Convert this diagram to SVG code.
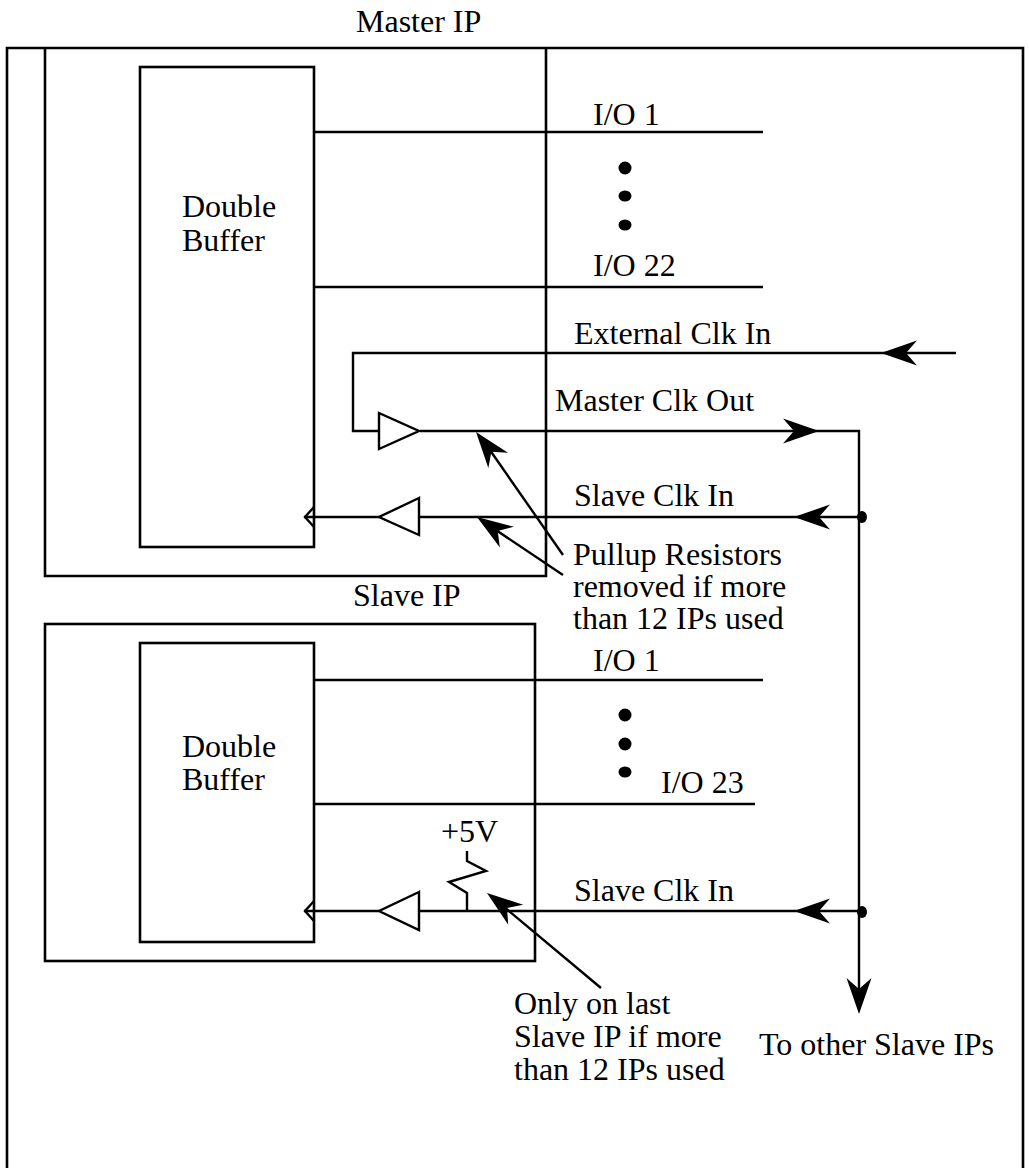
<svg xmlns="http://www.w3.org/2000/svg" width="1029" height="1168" viewBox="0 0 1029 1168">
<style>
.l{fill:none;stroke:#000;stroke-width:2.4}
.t{fill:none;stroke:#000;stroke-width:2.4;stroke-linejoin:miter}
.b{fill:none;stroke:#000;stroke-width:2.6}
text{font-family:"Liberation Serif","Times New Roman",serif;font-size:32px;fill:#000}
.h{fill:#000;stroke:none}
.d{fill:#000}
</style>
<defs>
<path id="ah" class="h" d="M0 0L-36 -12.500L-25 0L-36 12.500Z"/>
</defs>
<rect width="1029" height="1168" fill="#fff"/>
<g id="frame"><path class="b" d="M7 1168V48H1023V1168"/></g>
<g id="master-ip"><path class="b" d="M45 48V576H546V48"/><text x="356" y="32">Master IP</text></g>
<g id="master-buffer"><rect class="b" x="140" y="67" width="174" height="480"/><text x="182" y="217">Double</text><text x="182" y="251">Buffer</text></g>
<g id="slave-ip"><rect class="b" x="45" y="624" width="490" height="337"/><text x="353" y="606">Slave IP</text></g>
<g id="slave-buffer"><rect class="b" x="140" y="643" width="174" height="299"/><text x="182" y="757">Double</text><text x="182" y="790">Buffer</text></g>
<g id="connectors">
<path class="l" d="M314 132H763M314 287H763M314 680H763M314 804H755"/>
<path class="l" d="M956 353H353V431H379"/>
<path class="l" d="M420 431H859V1000"/>
<path class="l" d="M859 517H419M379 517H304"/>
<path class="l" d="M859 911H419M379 911H304"/>
<path class="t" d="M379 413L419 431L379 449Z"/>
<path class="t" d="M419 498L379 517L419 535Z"/>
<path class="t" d="M419 892L379 911L419 930Z"/>
<path class="l" d="M314 507L305 517L314 527M314 901L305 911L314 921"/>
<path class="l" d="M467 851V861L486 871L449 882L467 893V911"/>
<path class="l" d="M563 555L485 443M563 575L487 524M601 988L497 901"/>
<use href="#ah" transform="translate(881 353) rotate(180)"/>
<use href="#ah" transform="translate(819 431)"/>
<use href="#ah" transform="translate(794 517) rotate(180)"/>
<use href="#ah" transform="translate(794 911) rotate(180)"/>
<use href="#ah" transform="translate(859 1014) rotate(90)"/>
<use href="#ah" transform="translate(476 432) rotate(232)"/>
<use href="#ah" transform="translate(477 517) rotate(214)"/>
<use href="#ah" transform="translate(487 893) rotate(217)"/>
<ellipse class="d" cx="862" cy="517" rx="5" ry="6"/><ellipse class="d" cx="862" cy="912" rx="5" ry="6"/>
<ellipse class="d" cx="625" cy="168" rx="6.500" ry="6.500"/><ellipse class="d" cx="625" cy="196" rx="6.500" ry="5.500"/><ellipse class="d" cx="625" cy="225" rx="6.500" ry="5.500"/>
<ellipse class="d" cx="625" cy="715" rx="6.500" ry="6.500"/><ellipse class="d" cx="625" cy="744" rx="6.500" ry="6.500"/><ellipse class="d" cx="625" cy="772" rx="6.500" ry="5.500"/>
</g>
<g id="labels">
<text x="593" y="125">I/O 1</text>
<text x="593" y="276">I/O 22</text>
<text x="574" y="344">External Clk In</text>
<text x="555" y="411">Master Clk Out</text>
<text x="574" y="506">Slave Clk In</text>
<text x="573" y="565">Pullup Resistors</text>
<text x="573" y="597">removed if more</text>
<text x="573" y="629">than 12 IPs used</text>
<text x="593" y="671">I/O 1</text>
<text x="661" y="793">I/O 23</text>
<text x="441" y="842">+5V</text>
<text x="574" y="901">Slave Clk In</text>
<text x="514" y="1014">Only on last</text>
<text x="514" y="1047">Slave IP if more</text>
<text x="514" y="1080">than 12 IPs used</text>
<text x="759" y="1055">To other Slave IPs</text>
</g>
</svg>
